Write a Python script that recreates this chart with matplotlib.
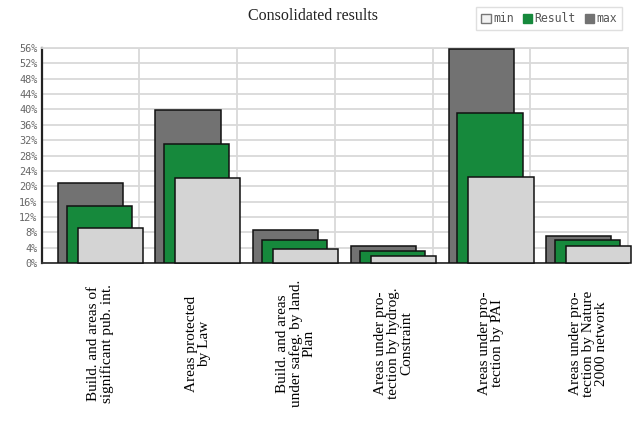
import matplotlib.pyplot as plt
from matplotlib.patches import Patch
import numpy as np

categories = [
    'Build. and areas of\nsignificant pub. int.',
    'Areas protected\nby Law',
    'Build. and areas\nunder safeg. by land.\nPlan',
    'Areas under pro-\ntection by hydrog.\nConstraint',
    'Areas under pro-\ntection by PAI',
    'Areas under pro-\ntection by Nature\n2000 network',
]
max_vals = [20.8, 39.9, 8.5, 4.3, 55.8, 7.0]
result_vals = [14.9, 31.0, 6.1, 3.1, 39.2, 5.9]
min_vals = [9.1, 22.2, 3.5, 1.7, 22.5, 4.4]
yticks = list(range(0, 57, 4))

c_max = '#727272'
c_res = '#16893c'
c_min = '#d4d4d4'

fig = plt.figure(figsize=(6.33, 4.22), dpi=100)
ax = fig.add_axes([0.066, 0.377, 0.926, 0.509])

x = np.arange(len(categories))
w = 0.667
ax.bar(x + 0.497, max_vals, w, color=c_max, edgecolor='#111111', linewidth=1.1, zorder=3)
ax.bar(x + 0.588, result_vals, w, color=c_res, edgecolor='#111111', linewidth=1.1, zorder=4)
bars = ax.bar(x + 0.70, min_vals, w, color=c_min, edgecolor='#111111', linewidth=1.1, zorder=5)
for b in bars:
    b.set_clip_on(False)

ax.set_xlim(0, 6)
ax.set_ylim(0, 56)
ax.set_yticks(yticks)
ax.set_yticklabels([f'{t}%' for t in yticks], family='DejaVu Sans Mono',
                   fontsize=7.4, color='#666666')
ax.set_xticks(np.arange(7))
ax.set_xticklabels([])
ax.tick_params(length=0, pad=3)
ax.grid(True, color='#d9d9d9', linewidth=1.3, zorder=0)

for s in ['top', 'right']:
    ax.spines[s].set_color('#d9d9d9')
    ax.spines[s].set_linewidth(1.3)
ax.spines['left'].set_color('#222222')
ax.spines['left'].set_linewidth(1.6)
ax.spines['bottom'].set_color('#333333')
ax.spines['bottom'].set_linewidth(1.3)

for i, lab in enumerate(categories):
    ax.text(i + 0.6, -0.375, lab, transform=ax.get_xaxis_transform(),
            rotation=90, ha='center', va='center', multialignment='center',
            family='Liberation Serif', fontsize=11, linespacing=1.0)

fig.text(0.495, 0.962, 'Consolidated results', ha='center', va='center',
         family='Liberation Serif', fontsize=11.5, color='#222222')

handles = [Patch(facecolor='#f2f2f2', edgecolor='#777777'),
           Patch(facecolor=c_res, edgecolor=c_res),
           Patch(facecolor=c_max, edgecolor=c_max)]
leg = fig.legend(handles, ['min', 'Result', 'max'], ncol=3,
                 loc='upper right', bbox_to_anchor=(0.992, 0.997),
                 prop={'family': 'DejaVu Sans Mono', 'size': 8.3},
                 handlelength=0.8, handleheight=0.8, handletextpad=0.2,
                 columnspacing=0.8, borderpad=0.45, fancybox=False,
                 frameon=True)
leg.get_frame().set_edgecolor('#d8d8d8')
leg.get_frame().set_linewidth(1.0)
for t in leg.get_texts():
    t.set_color('#555555')

fig.savefig('out.png', dpi=100)
